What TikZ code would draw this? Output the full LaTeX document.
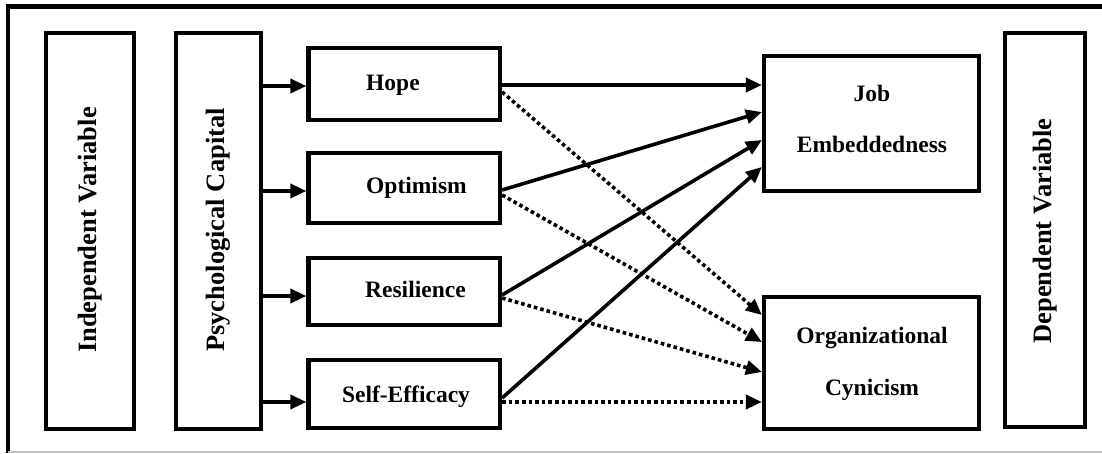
\documentclass[tikz,border=0pt]{standalone}
\usepackage{fontspec}
\setmainfont{Liberation Serif}
\usetikzlibrary{arrows.meta}
\begin{document}
\begin{tikzpicture}[x=1pt,y=-1pt,
  box/.style={draw,line width=4.2pt,inner sep=0pt},
  lbl/.style={inner sep=0pt,font=\fontsize{23.5}{28}\selectfont\bfseries},
  vlbl/.style={inner sep=0pt,rotate=90,font=\fontsize{26.5}{30}\selectfont\bfseries},
  arr/.style={line width=3.6pt,-{Triangle[length=16pt,width=14pt]}},
  dotarr/.style={arr,dash pattern=on 3.6pt off 3pt},
]
\useasboundingbox (0,0) rectangle (1102,453);

% outer frame
\draw[line width=4.5pt] (1102,6.5) -- (8,6.5) -- (8,453);
\draw[black!25,line width=1.5pt] (8,452) -- (1102,452);

% tall side boxes
\node[box,minimum width=88pt,minimum height=396pt] (iv) at (90,231) {};
\node[vlbl] (ivT) at (90,230) {Independent Variable};
\node[box,minimum width=85pt,minimum height=396pt] (pc) at (218.5,231) {};
\node[vlbl] (pcT) at (218.5,230) {Psychological Capital};
\node[box,minimum width=80pt,minimum height=394pt] (dv) at (1045,230) {};
\node[vlbl] (dvT) at (1045,231) {Dependent Variable};

% dimension boxes
\node[box,minimum width=191.5pt,minimum height=72pt] (hope) at (404.25,84) {};
\node[lbl,anchor=base west] (hopeT) at (366,90) {Hope};
\node[box,minimum width=191.5pt,minimum height=70pt] (opt) at (404.25,188) {};
\node[lbl,anchor=base west] (optT) at (366,193) {Optimism};
\node[box,minimum width=191.5pt,minimum height=67pt] (res) at (404.25,291.5) {};
\node[lbl,anchor=base west] (resT) at (365,297) {Resilience};
\node[box,minimum width=191.5pt,minimum height=68pt] (self) at (404.25,394) {};
\node[lbl,anchor=base] (selfT) at (406,402) {Self-Efficacy};

% outcome boxes
\node[box,minimum width=215pt,minimum height=135pt] (je) at (871.5,123.5) {};
\node[lbl,anchor=base] (jeT1) at (872,101) {Job};
\node[lbl,anchor=base] (jeT2) at (872,152) {Embeddedness};
\node[box,minimum width=215pt,minimum height=132pt] (oc) at (871.5,363) {};
\node[lbl,anchor=base] (ocT1) at (872,343) {Organizational};
\node[lbl,anchor=base] (ocT2) at (872,395) {Cynicism};

% entry points on the dimension boxes
\coordinate (hopeIn) at ([yshift=-2pt]hope.west);
\coordinate (optIn)  at ([yshift=-3pt]opt.west);
\coordinate (resIn)  at ([yshift=-4.5pt]res.west);
\coordinate (selfIn) at ([yshift=-8pt]self.west);

\draw[arr] (pc.east |- hopeIn) -- (hopeIn);
\draw[arr] (pc.east |- optIn) -- (optIn);
\draw[arr] (pc.east |- resIn) -- (resIn);
\draw[arr] (pc.east |- selfIn) -- (selfIn);

% paths to job embeddedness
\draw[arr] ([yshift=-1pt]hope.east) -- ([yshift=38.5pt]je.west);
\draw[arr] ([yshift=-2pt]opt.east) -- ([yshift=11.5pt]je.west);
\draw[arr] ([yshift=-3.5pt]res.east) -- ([yshift=-16.5pt]je.west);
\draw[arr] ([yshift=-4pt]self.east) -- ([yshift=-43.5pt]je.west);

% paths to organizational cynicism
\draw[dotarr] ([yshift=-8pt]hope.east) -- ([yshift=48pt]oc.west);
\draw[dotarr] ([yshift=-7pt]opt.east) -- ([yshift=21pt]oc.west);
\draw[dotarr] ([yshift=-6.5pt]res.east) -- ([yshift=-9pt]oc.west);
\draw[dotarr] ([yshift=-8pt]self.east) -- ([yshift=-39pt]oc.west);
\end{tikzpicture}
\end{document}
